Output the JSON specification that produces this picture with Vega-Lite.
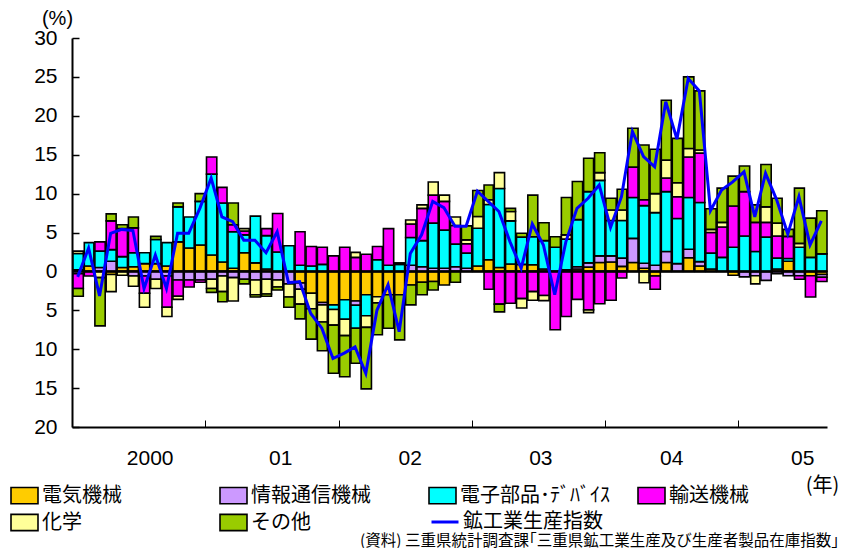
{
  "$schema": "https://vega.github.io/schema/vega-lite/v6.json",
  "width": 755,
  "height": 389,
  "autosize": {"type": "none"},
  "padding": {"left": 72, "top": 38, "right": 22, "bottom": 121},
  "background": "white",
  "config": {
    "view": {"stroke": null},
    "font": "Liberation Sans, Noto Sans CJK JP",
    "axis": {"grid": false, "domainColor": "black", "tickColor": "black", "labelColor": "black", "titleColor": "black", "labelFont": "Liberation Sans", "labelFontSize": 21, "titleFont": "Noto Sans CJK JP", "titleFontWeight": "normal", "labelOverlap": false}
  },
  "title": {"text": "(資料)  三重県統計調査課｢三重県鉱工業生産及び生産者製品在庫指数｣", "orient": "bottom", "anchor": "end", "frame": "group", "font": "Noto Sans CJK JP", "fontSize": 15.5, "fontWeight": "normal", "color": "black", "offset": 0, "dx": 12},
  "datasets": {
    "cats": [
      {"k": "電気機械", "n": 1}, {"k": "情報通信機械", "n": 2}, {"k": "電子部品･ﾃﾞﾊﾞｲｽ", "n": 3},
      {"k": "輸送機械", "n": 4}, {"k": "化学", "n": 5}, {"k": "その他", "n": 6}
    ],
    "d": [
      {"m": "2000-01", "電気機械": 0.2, "情報通信機械": -0.3, "電子部品･ﾃﾞﾊﾞｲｽ": 2.1, "輸送機械": -1.9, "化学": 0.3, "その他": -1.0, "鉱工業生産指数": -0.7},
      {"m": "2000-02", "電気機械": 0.7, "情報通信機械": 0, "電子部品･ﾃﾞﾊﾞｲｽ": 3.0, "輸送機械": -0.6, "化学": 0, "その他": 0, "鉱工業生産指数": 3.0},
      {"m": "2000-03", "電気機械": 0, "情報通信機械": 0.5, "電子部品･ﾃﾞﾊﾞｲｽ": 2.1, "輸送機械": 1.2, "化学": -0.8, "その他": -6.2, "鉱工業生産指数": -3.15},
      {"m": "2000-04", "電気機械": -0.4, "情報通信機械": 1.3, "電子部品･ﾃﾞﾊﾞｲｽ": 1.5, "輸送機械": 3.7, "化学": -2.2, "その他": 0.9, "鉱工業生産指数": 4.9},
      {"m": "2000-05", "電気機械": 0.5, "情報通信機械": 0, "電子部品･ﾃﾞﾊﾞｲｽ": 1.4, "輸送機械": 3.6, "化学": -0.5, "その他": 0.5, "鉱工業生産指数": 5.4},
      {"m": "2000-06", "電気機械": 0.6, "情報通信機械": -0.6, "電子部品･ﾃﾞﾊﾞｲｽ": 1.8, "輸送機械": 3.2, "化学": -1.3, "その他": 1.4, "鉱工業生産指数": 5.25},
      {"m": "2000-07", "電気機械": 1.0, "情報通信機械": -0.6, "電子部品･ﾃﾞﾊﾞｲｽ": 1.4, "輸送機械": -2.2, "化学": -1.8, "その他": 0, "鉱工業生産指数": -2.2},
      {"m": "2000-08", "電気機械": 1.0, "情報通信機械": -1.0, "電子部品･ﾃﾞﾊﾞｲｽ": 3.1, "輸送機械": 0, "化学": -1.2, "その他": 0.4, "鉱工業生産指数": 2.1},
      {"m": "2000-09", "電気機械": 0.7, "情報通信機械": -0.6, "電子部品･ﾃﾞﾊﾞｲｽ": 3.0, "輸送機械": -4.0, "化学": -1.2, "その他": 0, "鉱工業生産指数": -2.2},
      {"m": "2000-10", "電気機械": 3.8, "情報通信機械": -1.1, "電子部品･ﾃﾞﾊﾞｲｽ": 4.5, "輸送機械": -2.1, "化学": -0.4, "その他": 0.5, "鉱工業生産指数": 4.9},
      {"m": "2000-11", "電気機械": 3.0, "情報通信機械": -1.1, "電子部品･ﾃﾞﾊﾞｲｽ": 4.0, "輸送機械": -0.9, "化学": 0, "その他": 0, "鉱工業生産指数": 4.9},
      {"m": "2000-12", "電気機械": 3.4, "情報通信機械": -1.1, "電子部品･ﾃﾞﾊﾞｲｽ": 5.6, "輸送機械": -0.3, "化学": 0, "その他": 1.0, "鉱工業生産指数": 8.1},
      {"m": "2001-01", "電気機械": 2.1, "情報通信機械": -1.0, "電子部品･ﾃﾞﾊﾞｲｽ": 10.4, "輸送機械": 2.2, "化学": -1.2, "その他": -0.5, "鉱工業生産指数": 12.0},
      {"m": "2001-02", "電気機械": 1.2, "情報通信機械": -0.6, "電子部品･ﾃﾞﾊﾞｲｽ": 7.6, "輸送機械": 2.0, "化学": -2.0, "その他": -1.3, "鉱工業生産指数": 7.0},
      {"m": "2001-03", "電気機械": 0.4, "情報通信機械": -0.8, "電子部品･ﾃﾞﾊﾞｲｽ": 4.7, "輸送機械": 0.9, "化学": -3.0, "その他": 2.8, "鉱工業生産指数": 6.4},
      {"m": "2001-04", "電気機械": 2.4, "情報通信機械": -1.0, "電子部品･ﾃﾞﾊﾞｲｽ": 2.3, "輸送機械": 0.5, "化学": 0.3, "その他": -0.6, "鉱工業生産指数": 4.0},
      {"m": "2001-05", "電気機械": 1.1, "情報通信機械": -1.1, "電子部品･ﾃﾞﾊﾞｲｽ": 6.0, "輸送機械": 0, "化学": -1.9, "その他": -0.3, "鉱工業生産指数": 4.0},
      {"m": "2001-06", "電気機械": 0.3, "情報通信機械": -1.0, "電子部品･ﾃﾞﾊﾞｲｽ": 4.3, "輸送機械": 0.9, "化学": -1.9, "その他": -0.3, "鉱工業生産指数": 2.4},
      {"m": "2001-07", "電気機械": 0, "情報通信機械": -1.1, "電子部品･ﾃﾞﾊﾞｲｽ": 2.5, "輸送機械": 4.95, "化学": -0.9, "その他": -0.4, "鉱工業生産指数": 5.1},
      {"m": "2001-08", "電気機械": 0, "情報通信機械": -1.6, "電子部品･ﾃﾞﾊﾞｲｽ": 3.3, "輸送機械": 0, "化学": -1.7, "その他": -1.3, "鉱工業生産指数": -1.45},
      {"m": "2001-09", "電気機械": -1.5, "情報通信機械": -0.8, "電子部品･ﾃﾞﾊﾞｲｽ": 0.8, "輸送機械": 4.3, "化学": -1.9, "その他": -1.9, "鉱工業生産指数": -1.3},
      {"m": "2001-10", "電気機械": -2.8, "情報通信機械": 0, "電子部品･ﾃﾞﾊﾞｲｽ": 0.7, "輸送機械": 2.5, "化学": -2.0, "その他": -3.9, "鉱工業生産指数": -5.4},
      {"m": "2001-11", "電気機械": -4.0, "情報通信機械": -0.3, "電子部品･ﾃﾞﾊﾞｲｽ": 0.9, "輸送機械": 2.2, "化学": -2.2, "その他": -3.7, "鉱工業生産指数": -7.3},
      {"m": "2001-12", "電気機械": -4.3, "情報通信機械": 0, "電子部品･ﾃﾞﾊﾞｲｽ": -0.6, "輸送機械": 2.0, "化学": -2.0, "その他": -6.2, "鉱工業生産指数": -11.2},
      {"m": "2002-01", "電気機械": -3.65, "情報通信機械": 0, "電子部品･ﾃﾞﾊﾞｲｽ": -2.5, "輸送機械": 3.1, "化学": -2.1, "その他": -5.3, "鉱工業生産指数": -10.5},
      {"m": "2002-02", "電気機械": -3.8, "情報通信機械": -0.55, "電子部品･ﾃﾞﾊﾞｲｽ": -2.95, "輸送機械": 1.8, "化学": 0.65, "その他": -4.5, "鉱工業生産指数": -9.7},
      {"m": "2002-03", "電気機械": -3.0, "情報通信機械": 0, "電子部品･ﾃﾞﾊﾞｲｽ": -2.7, "輸送機械": 2.2, "化学": -1.5, "その他": -7.9, "鉱工業生産指数": -13.1},
      {"m": "2002-04", "電気機械": -3.25, "情報通信機械": 0, "電子部品･ﾃﾞﾊﾞｲｽ": 1.5, "輸送機械": 1.7, "化学": -0.8, "その他": -4.1, "鉱工業生産指数": -5.0},
      {"m": "2002-05", "電気機械": -3.0, "情報通信機械": 0, "電子部品･ﾃﾞﾊﾞｲｽ": 0.8, "輸送機械": 4.7, "化学": 0, "その他": -4.3, "鉱工業生産指数": -1.7},
      {"m": "2002-06", "電気機械": -3.0, "情報通信機械": 0, "電子部品･ﾃﾞﾊﾞｲｽ": 0.9, "輸送機械": 0, "化学": 0.2, "その他": -5.8, "鉱工業生産指数": -7.75},
      {"m": "2002-07", "電気機械": -1.75, "情報通信機械": 0.8, "電子部品･ﾃﾞﾊﾞｲｽ": 3.55, "輸送機械": 1.75, "化学": 0.5, "その他": -2.55, "鉱工業生産指数": 2.3},
      {"m": "2002-08", "電気機械": -1.4, "情報通信機械": 0.6, "電子部品･ﾃﾞﾊﾞｲｽ": 3.35, "輸送機械": 4.15, "化学": 0.45, "その他": -1.6, "鉱工業生産指数": 4.7},
      {"m": "2002-09", "電気機械": -1.3, "情報通信機械": 0.4, "電子部品･ﾃﾞﾊﾞｲｽ": 5.8, "輸送機械": 3.6, "化学": 1.7, "その他": -1.1, "鉱工業生産指数": 9.0},
      {"m": "2002-10", "電気機械": -1.75, "情報通信機械": 0.4, "電子部品･ﾃﾞﾊﾞｲｽ": 4.9, "輸送機械": 3.7, "化学": 0.8, "その他": 0, "鉱工業生産指数": 8.2},
      {"m": "2002-11", "電気機械": 0, "情報通信機械": 0.6, "電子部品･ﾃﾞﾊﾞｲｽ": 2.9, "輸送機械": 2.4, "化学": 1.1, "その他": -1.4, "鉱工業生産指数": 5.8},
      {"m": "2002-12", "電気機械": 0, "情報通信機械": 0.4, "電子部品･ﾃﾞﾊﾞｲｽ": 1.95, "輸送機械": 1.2, "化学": 0.5, "その他": 1.8, "鉱工業生産指数": 5.8},
      {"m": "2003-01", "電気機械": 0.7, "情報通信機械": 0, "電子部品･ﾃﾞﾊﾞｲｽ": 4.85, "輸送機械": 0, "化学": 1.5, "その他": 3.35, "鉱工業生産指数": 10.3},
      {"m": "2003-02", "電気機械": 1.5, "情報通信機械": 0, "電子部品･ﾃﾞﾊﾞｲｽ": 7.1, "輸送機械": -2.3, "化学": 0.6, "その他": 1.9, "鉱工業生産指数": 9.0},
      {"m": "2003-03", "電気機械": 0.5, "情報通信機械": 0, "電子部品･ﾃﾞﾊﾞｲｽ": 10.15, "輸送機械": -4.2, "化学": 2.05, "その他": -1.0, "鉱工業生産指数": 7.7},
      {"m": "2003-04", "電気機械": 0.95, "情報通信機械": 0, "電子部品･ﾃﾞﾊﾞｲｽ": 5.55, "輸送機械": -4.1, "化学": 1.2, "その他": 0.4, "鉱工業生産指数": 3.8},
      {"m": "2003-05", "電気機械": 0.9, "情報通信機械": 0, "電子部品･ﾃﾞﾊﾞｲｽ": 3.5, "輸送機械": -3.5, "化学": -1.2, "その他": 0.5, "鉱工業生産指数": 0.4},
      {"m": "2003-06", "電気機械": 0.85, "情報通信機械": 0, "電子部品･ﾃﾞﾊﾞｲｽ": 3.6, "輸送機械": -2.6, "化学": -1.1, "その他": 5.35, "鉱工業生産指数": 6.1},
      {"m": "2003-07", "電気機械": 0.3, "情報通信機械": 0, "電子部品･ﾃﾞﾊﾞｲｽ": 3.65, "輸送機械": -3.1, "化学": -0.65, "その他": 2.3, "鉱工業生産指数": 3.4},
      {"m": "2003-08", "電気機械": 0, "情報通信機械": 0, "電子部品･ﾃﾞﾊﾞｲｽ": 3.1, "輸送機械": -7.5, "化学": 0, "その他": 1.35, "鉱工業生産指数": -3.0},
      {"m": "2003-09", "電気機械": 0.2, "情報通信機械": 0, "電子部品･ﾃﾞﾊﾞｲｽ": 3.95, "輸送機械": -5.8, "化学": 0.55, "その他": 4.8, "鉱工業生産指数": 3.8},
      {"m": "2003-10", "電気機械": 0.3, "情報通信機械": 0.3, "電子部品･ﾃﾞﾊﾞｲｽ": 6.05, "輸送機械": -3.6, "化学": 0, "その他": 4.9, "鉱工業生産指数": 8.1},
      {"m": "2003-11", "電気機械": 0.55, "情報通信機械": 0.55, "電子部品･ﾃﾞﾊﾞｲｽ": 9.15, "輸送機械": -4.95, "化学": -0.35, "その他": 4.3, "鉱工業生産指数": 9.4},
      {"m": "2003-12", "電気機械": 1.15, "情報通信機械": 0.85, "電子部品･ﾃﾞﾊﾞｲｽ": 9.7, "輸送機械": -4.15, "化学": 1.0, "その他": 2.55, "鉱工業生産指数": 11.1},
      {"m": "2004-01", "電気機械": 1.2, "情報通信機械": 0.8, "電子部品･ﾃﾞﾊﾞｲｽ": 4.55, "輸送機械": -3.7, "化学": 1.35, "その他": 1.5, "鉱工業生産指数": 5.65},
      {"m": "2004-02", "電気機械": 0.65, "情報通信機械": 1.05, "電子部品･ﾃﾞﾊﾞｲｽ": 4.85, "輸送機械": -0.85, "化学": 1.35, "その他": 2.65, "鉱工業生産指数": 9.6},
      {"m": "2004-03", "電気機械": 1.15, "情報通信機械": 3.1, "電子部品･ﾃﾞﾊﾞｲｽ": 5.25, "輸送機械": 3.9, "化学": 0, "その他": 5.0, "鉱工業生産指数": 18.0},
      {"m": "2004-04", "電気機械": 0.4, "情報通信機械": 0.65, "電子部品･ﾃﾞﾊﾞｲｽ": 7.4, "輸送機械": 0.75, "化学": -1.45, "その他": 7.05, "鉱工業生産指数": 14.75},
      {"m": "2004-05", "電気機械": -0.6, "情報通信機械": 0.8, "電子部品･ﾃﾞﾊﾞｲｽ": 6.75, "輸送機械": -1.7, "化学": 2.45, "その他": 5.7, "鉱工業生産指数": 13.45},
      {"m": "2004-06", "電気機械": 1.15, "情報通信機械": 1.4, "電子部品･ﾃﾞﾊﾞｲｽ": 7.7, "輸送機械": 1.75, "化学": 2.3, "その他": 7.7, "鉱工業生産指数": 21.8},
      {"m": "2004-07", "電気機械": 0, "情報通信機械": 1.0, "電子部品･ﾃﾞﾊﾞｲｽ": 5.8, "輸送機械": 2.8, "化学": 1.8, "その他": 5.7, "鉱工業生産指数": 17.0},
      {"m": "2004-08", "電気機械": 1.75, "情報通信機械": 1.1, "電子部品･ﾃﾞﾊﾞｲｽ": 6.65, "輸送機械": 5.2, "化学": 1.1, "その他": 9.2, "鉱工業生産指数": 24.8},
      {"m": "2004-09", "電気機械": 0.7, "情報通信機械": 0.55, "電子部品･ﾃﾞﾊﾞｲｽ": 7.6, "輸送機械": 6.35, "化学": 0.4, "その他": 7.6, "鉱工業生産指数": 23.2},
      {"m": "2004-10", "電気機械": 0.3, "情報通信機械": 0, "電子部品･ﾃﾞﾊﾞｲｽ": 2.05, "輸送機械": 2.65, "化学": 0.4, "その他": 2.65, "鉱工業生産指数": 7.8},
      {"m": "2004-11", "電気機械": 0, "情報通信機械": 0, "電子部品･ﾃﾞﾊﾞｲｽ": 1.8, "輸送機械": 3.9, "化学": 0.6, "その他": 4.4, "鉱工業生産指数": 10.45},
      {"m": "2004-12", "電気機械": -0.5, "情報通信機械": 0, "電子部品･ﾃﾞﾊﾞｲｽ": 3.1, "輸送機械": 5.3, "化学": 0, "その他": 3.85, "鉱工業生産指数": 11.5},
      {"m": "2005-01", "電気機械": 0, "情報通信機械": -0.7, "電子部品･ﾃﾞﾊﾞｲｽ": 4.55, "輸送機械": 5.7, "化学": 0, "その他": 3.3, "鉱工業生産指数": 12.8},
      {"m": "2005-02", "電気機械": 0, "情報通信機械": -0.55, "電子部品･ﾃﾞﾊﾞｲｽ": 2.55, "輸送機械": 3.75, "化学": -1.05, "その他": 2.25, "鉱工業生産指数": 7.0},
      {"m": "2005-03", "電気機械": 0, "情報通信機械": -1.15, "電子部品･ﾃﾞﾊﾞｲｽ": 4.4, "輸送機械": 1.9, "化学": 2.0, "その他": 5.45, "鉱工業生産指数": 12.6},
      {"m": "2005-04", "電気機械": 0.3, "情報通信機械": -0.3, "電子部品･ﾃﾞﾊﾞｲｽ": 1.4, "輸送機械": 2.85, "化学": 1.65, "その他": 3.2, "鉱工業生産指数": 9.2},
      {"m": "2005-05", "電気機械": 1.3, "情報通信機械": -0.55, "電子部品･ﾃﾞﾊﾞｲｽ": 0.35, "輸送機械": 2.85, "化学": 0, "その他": 0.9, "鉱工業生産指数": 4.8},
      {"m": "2005-06", "電気機械": 0, "情報通信機械": -0.55, "電子部品･ﾃﾞﾊﾞｲｽ": 3.1, "輸送機械": -0.45, "化学": 0.5, "その他": 7.1, "鉱工業生産指数": 9.6},
      {"m": "2005-07", "電気機械": -0.55, "情報通信機械": 0, "電子部品･ﾃﾞﾊﾞｲｽ": 1.8, "輸送機械": -2.75, "化学": 0, "その他": 5.05, "鉱工業生産指数": 3.4},
      {"m": "2005-08", "電気機械": -0.4, "情報通信機械": -0.35, "電子部品･ﾃﾞﾊﾞｲｽ": 2.25, "輸送機械": -0.55, "化学": 0, "その他": 5.55, "鉱工業生産指数": 6.5}
    ]
  },
  "layer": [
    {
      "data": {"name": "d"},
      "transform": [
        {"fold": ["電気機械", "情報通信機械", "電子部品･ﾃﾞﾊﾞｲｽ", "輸送機械", "化学", "その他"], "as": ["k", "v"]},
        {"filter": "isValid(datum.v) && datum.v != 0"},
        {"lookup": "k", "from": {"data": {"name": "cats"}, "key": "k", "fields": ["n"]}}
      ],
      "mark": {"type": "bar", "stroke": "#000000", "strokeWidth": 1.6},
      "encoding": {
        "x": {
          "field": "m", "type": "temporal", "timeUnit": "utcyearmonth",
          "scale": {"domain": [{"year": 2000, "month": 1, "date": 1, "utc": true}, {"year": 2005, "month": 9, "date": 1, "utc": true}]},
          "axis": {
            "orient": "bottom",
            "values": [{"year": 2001, "month": 1, "date": 1, "utc": true}, {"year": 2002, "month": 1, "date": 1, "utc": true}, {"year": 2003, "month": 1, "date": 1, "utc": true}, {"year": 2004, "month": 1, "date": 1, "utc": true}, {"year": 2005, "month": 1, "date": 1, "utc": true}],
            "labels": false, "tickSize": -7, "tickWidth": 1, "domainWidth": 2, "title": null
          }
        },
        "y": {
          "field": "v", "type": "quantitative", "stack": "zero",
          "scale": {"domain": [-20, 30], "nice": false, "zero": false},
          "axis": {
            "values": [-20, -15, -10, -5, 0, 5, 10, 15, 20, 25, 30],
            "labelExpr": "abs(datum.value)", "labelOverlap": false, "labelFontSize": 21,
            "tickSize": -7, "tickWidth": 1.5, "domainWidth": 2, "labelPadding": 22,
            "title": "(%)", "titleAngle": 0, "titleX": -15, "titleY": -20, "titleAlign": "center", "titleBaseline": "middle", "titleFontSize": 20, "titleFont": "Liberation Sans"
          }
        },
        "order": {"field": "n", "type": "quantitative", "sort": "ascending"},
        "fill": {
          "field": "k", "type": "nominal",
          "scale": {
            "domain": ["電気機械", "情報通信機械", "電子部品･ﾃﾞﾊﾞｲｽ", "輸送機械", "化学", "その他"],
            "range": ["#FFCC00", "#CC99FF", "#00FFFF", "#FF00FF", "#FFFF99", "#99CC00"]
          },
          "legend": {
            "orient": "none", "legendX": -62, "legendY": 443, "columns": 4, "direction": "horizontal", "gridAlign": "all",
            "columnPadding": 24, "rowPadding": 1, "padding": 0, "title": null,
            "labelFont": "Noto Sans CJK JP", "labelFontSize": 20, "labelColor": "black", "labelOffset": 3, "labelLimit": 300,
            "symbolSize": 729, "symbolType": "M-1,-0.6H1V0.6H-1Z", "symbolStrokeColor": "#000000", "symbolStrokeWidth": 1.6, "symbolOpacity": 1
          }
        }
      }
    },
    {
      "data": {"values": [{}]},
      "mark": {"type": "rule", "color": "black", "strokeWidth": 2.5},
      "encoding": {
        "y": {
          "datum": 0, "type": "quantitative",
          "axis": {
            "values": [-20, -15, -10, -5, 0, 5, 10, 15, 20, 25, 30],
            "labelExpr": "abs(datum.value)", "labelOverlap": false, "labelFontSize": 21,
            "tickSize": -7, "tickWidth": 1.5, "domainWidth": 2, "labelPadding": 22,
            "title": "(%)", "titleAngle": 0, "titleX": -15, "titleY": -20, "titleAlign": "center", "titleBaseline": "middle", "titleFontSize": 20, "titleFont": "Liberation Sans"
          }
        }
      }
    },
    {
      "data": {"name": "d"},
      "mark": {"type": "line", "strokeWidth": 3},
      "encoding": {
        "x": {
          "field": "m", "type": "temporal", "timeUnit": "utcyearmonth", "bandPosition": 0.5,
          "axis": {
            "orient": "bottom",
            "values": [{"year": 2000, "month": 8, "date": 1, "utc": true}, {"year": 2001, "month": 7, "date": 25, "utc": true}, {"year": 2002, "month": 7, "date": 15, "utc": true}, {"year": 2003, "month": 7, "date": 8, "utc": true}, {"year": 2004, "month": 7, "date": 1, "utc": true}, {"year": 2005, "month": 6, "date": 25, "utc": true}],
            "labelExpr": "utcFormat(datum.value, '%Y') == '2000' ? '2000' : utcFormat(datum.value, '%y')",
            "ticks": false, "domain": false, "labelPadding": 20, "labelFontSize": 21, "labelOverlap": false,
            "title": "(年)", "titleX": 750, "titleY": 58, "titleAlign": "center", "titleBaseline": "middle", "titleFontSize": 20
          }
        },
        "y": {
          "field": "鉱工業生産指数", "type": "quantitative",
          "axis": {
            "values": [-20, -15, -10, -5, 0, 5, 10, 15, 20, 25, 30],
            "labelExpr": "abs(datum.value)", "labelOverlap": false, "labelFontSize": 21,
            "tickSize": -7, "tickWidth": 1.5, "domainWidth": 2, "labelPadding": 22,
            "title": "(%)", "titleAngle": 0, "titleX": -15, "titleY": -20, "titleAlign": "center", "titleBaseline": "middle", "titleFontSize": 20, "titleFont": "Liberation Sans"
          }
        },
        "stroke": {
          "datum": "鉱工業生産指数",
          "scale": {"domain": ["鉱工業生産指数"], "range": ["#0000FF"]},
          "legend": {
            "orient": "none", "legendX": 358, "legendY": 469, "padding": 0, "title": null,
            "labelFont": "Noto Sans CJK JP", "labelFontSize": 20, "labelColor": "black", "labelOffset": 3, "labelLimit": 300,
            "symbolType": "stroke", "symbolSize": 729, "symbolStrokeWidth": 3, "symbolStrokeColor": "#0000FF"
          }
        }
      }
    }
  ],
  "resolve": {"axis": {"x": "independent"}}
}
